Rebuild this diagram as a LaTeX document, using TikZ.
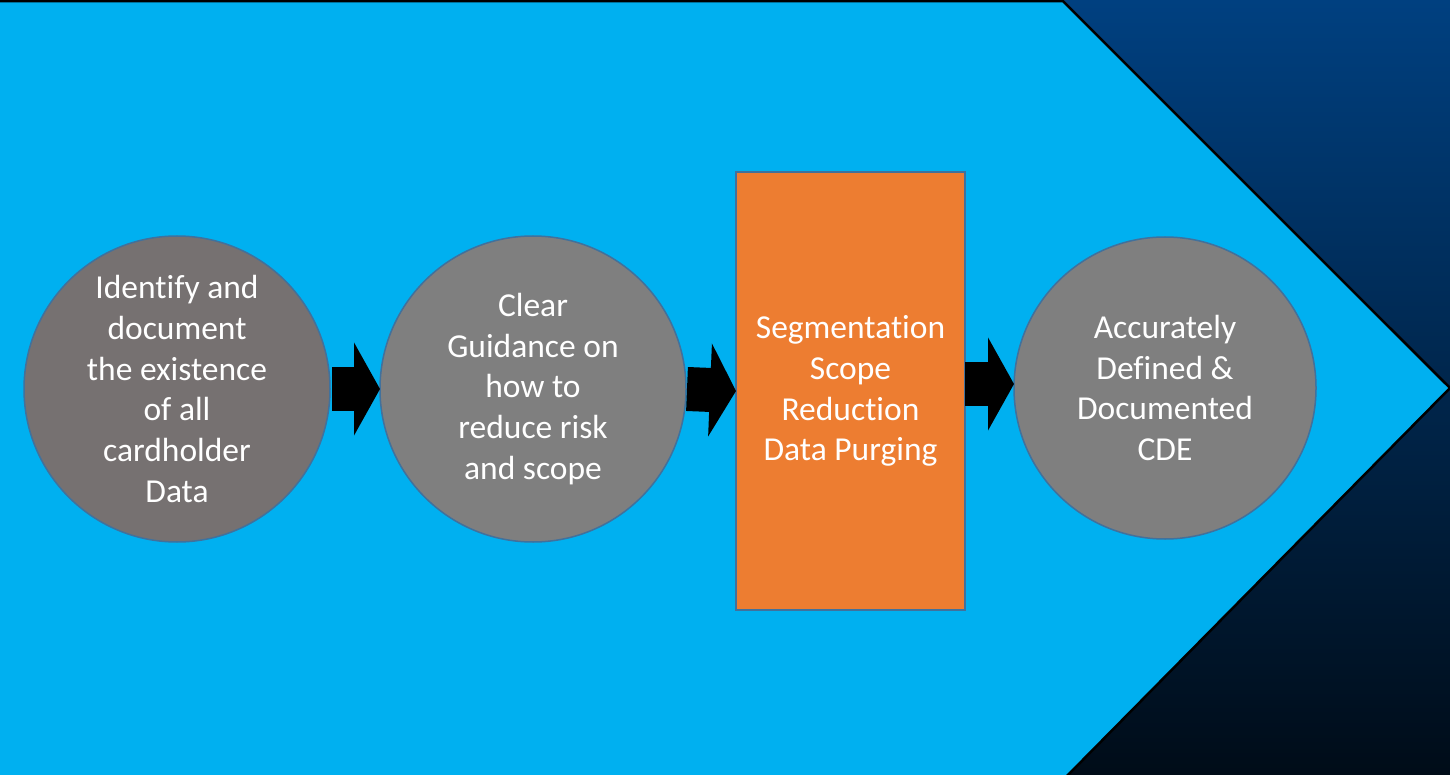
\documentclass[tikz,border=0pt]{standalone}
\usepackage{fontspec}
\setmainfont{Carlito}[Ligatures={NoCommon}]
\usepackage{xcolor}
\usetikzlibrary{arrows.meta,positioning}

\definecolor{bgtop}{HTML}{004080}
\definecolor{bgmid}{HTML}{001B38}
\definecolor{bgbot}{HTML}{000C18}
\definecolor{chevblue}{HTML}{00B0F0}
\definecolor{edgeblue}{HTML}{41719C}
\definecolor{warmgray}{HTML}{767171}
\definecolor{stagegray}{HTML}{7F7F7F}
\definecolor{segorange}{HTML}{ED7D31}

\begin{document}
\begin{tikzpicture}[
  x=1pt, y=-1pt,
  node distance=50pt,
  stage/.style={circle, draw=edgeblue, line width=1.5pt, fill=stagegray,
                minimum size=306pt, inner sep=0pt, outer sep=0pt, align=center,
                text=white, font=\fontsize{33.5}{40.8}\selectfont},
  slab/.style={draw=edgeblue, line width=1.5pt, fill=segorange,
               minimum width=229pt, minimum height=438pt, inner sep=0pt,
               outer sep=0pt, align=center, text=white,
               font=\fontsize{33.5}{40.8}\selectfont},
  blk/.style={line width=44pt, -{Triangle[length=26pt, width=92pt]}}]
  % background and chevron
  \useasboundingbox (0,0) rectangle (1450,775);
  \shade[top color=bgtop, middle color=bgmid, bottom color=bgbot] (0,0) rectangle (1450,775);
  \filldraw[fill=chevblue, draw=black, line width=2.5pt, line join=miter]
    (-10,1.25) -- (1063,1.25) -- (1450,388) -- (1063,780) -- (-10,780) -- cycle;

  \node[stage, fill=warmgray] (idn) at (177,389)
    {Identify and\\document\\the existence\\of all\\cardholder\\Data};
  \node[stage, right=of idn] (guide)
    {Clear\\Guidance on\\how to\\reduce risk\\and scope};
  \node[slab, right=of guide, yshift=-2pt] (seg)
    {Segmentation\\Scope\\Reduction\\Data Purging};
  \node[stage, minimum size=302pt, right=49pt of seg, yshift=3pt] (cde)
    {Accurately\\Defined \&\\Documented\\CDE};

  \draw[blk] ([xshift=2pt]idn.east) -- (guide.west);
  \draw[blk] ([xshift=1pt]guide.east) -- (seg.west);
  \draw[blk] ([yshift=7pt]seg.east) -- ([yshift=4pt]cde.west);
\end{tikzpicture}
\end{document}
